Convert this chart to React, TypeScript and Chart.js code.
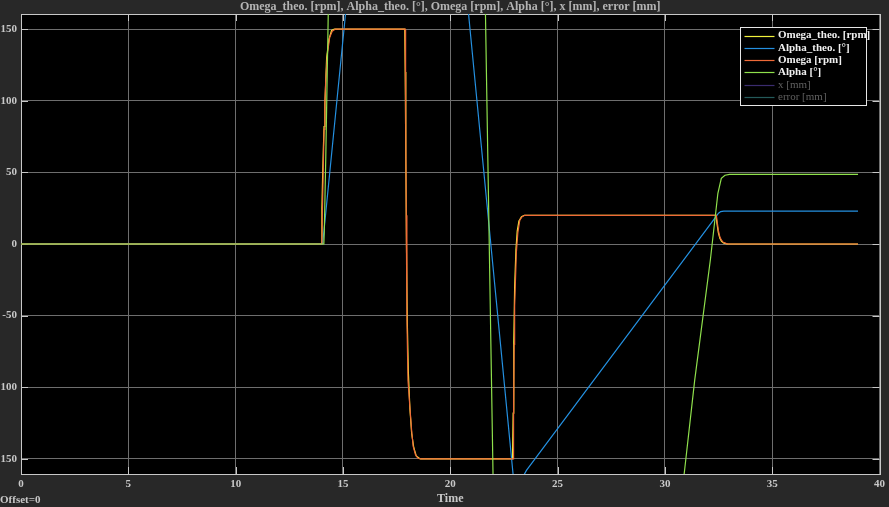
import React, { useEffect, useRef } from 'react';
import { Chart, registerables } from 'chart.js';

Chart.register(...registerables);

// ---- axis ticks ----
const xTickValues = [0, 5, 10, 15, 20, 25, 30, 35, 40];
const yTickValues = [-150, -100, -50, 0, 50, 100, 150];

// ---- series names ----
const seriesNames = ['Omega_theo. [rpm]', 'Alpha_theo. [°]', 'Omega [rpm]', 'Alpha [°]', 'x [mm]', 'error [mm]'];
const seriesColors = ['#f2f23c', '#2490e0', '#ef6a38', '#8fe04c', '#3b2c6e', '#245a5a'];

// ---- Omega_theo [rpm] ----
const omegaTheoT = [0, 13.99, 14.02, 14.05, 14.08, 14.12, 14.16, 14.24, 14.35, 14.47, 14.6, 17.88, 17.9, 17.93, 17.96, 18.0, 18.05, 18.12, 18.2, 18.3, 18.42, 18.6, 22.9, 22.93, 22.96, 23.0, 23.06, 23.12, 23.2, 23.32, 23.45, 32.38, 32.43, 32.49, 32.56, 32.64, 32.75, 32.9, 39];
const omegaTheoV = [0, 0, 25, 45, 63, 82, 98, 130, 143, 149, 150, 150, 120, 60, 0, -55, -90, -115, -132, -142, -148, -150, -150, -118, -68, -30, -4, 9, 16, 19, 20, 20, 14, 8, 4, 1.8, 0.6, 0, 0];

// ---- Alpha_theo [°] ----
const alphaTheoT = [0, 14.05, 14.12, 15.09, 17.9, 18.0, 18.1, 18.25, 20.91, 22.93, 23.0, 23.08, 23.55, 32.4, 32.5, 32.6, 32.75, 33.0, 39];
const alphaTheoV = [0, 0, 9.8, 156, 578, 585, 585, 570, 151.6, -161, -170, -171, -158, 19.5, 21.5, 22.6, 23, 23, 23];

// ---- Omega [rpm] ----
const omegaT = [0, 14.02, 14.04, 14.08, 14.12, 14.16, 14.2, 14.28, 14.38, 14.5, 14.65, 17.9, 17.92, 17.95, 17.98, 18.03, 18.11, 18.2, 18.27, 18.38, 18.5, 18.65, 22.93, 22.95, 22.98, 23.0, 23.08, 23.15, 23.24, 23.35, 23.47, 32.4, 32.45, 32.5, 32.56, 32.63, 32.72, 32.85, 32.95, 39];
const omegaV = [0, 0, 20, 50, 80, 100, 115, 133, 144, 148.5, 150, 150, 100, 20, -50, -95, -112, -130, -141, -147, -149.5, -150, -150, -120, -70, -43, -6, 8, 16.7, 19, 20, 20, 14, 9, 5, 2.8, 1.2, 0.4, 0, 0];

// ---- Alpha [°] ----
const alphaT = [0, 14.11, 14.13, 14.2, 14.31, 14.5, 18.0, 18.2, 21.64, 21.99, 23.05, 23.2, 30.92, 31.39, 32.12, 32.47, 32.63, 32.8, 33.01, 39];
const alphaV = [0, 0, 8, 60, 156, 330, 3400, 3400, 161, -158, -1110, -1100, -157.7, -95, -11, 35.4, 45.8, 48, 48.6, 48.6];

// ---- x [mm], error [mm] (no visible samples) ----
const xMmT: number[] = [];
const xMmV: number[] = [];
const errorT: number[] = [];
const errorV: number[] = [];

const titleText = 'Omega_theo. [rpm], Alpha_theo. [°], Omega [rpm], Alpha [°], x [mm], error [mm]';
const SERIF = '"Liberation Serif", "Times New Roman", serif';

function pts(t: number[], v: number[]) {
  return t.map((x, i) => ({ x, y: v[i] }));
}

export default function App() {
  const ref = useRef<HTMLCanvasElement>(null);

  useEffect(() => {
    document.body.style.margin = '0';
    const canvas = ref.current!;

    const bgPlugin = {
      id: 'bg',
      beforeDraw(chart: any) {
        const { ctx, chartArea: a } = chart;
        ctx.save();
        ctx.fillStyle = '#282828';
        ctx.fillRect(0, 0, chart.width, chart.height);
        ctx.fillStyle = '#000000';
        ctx.fillRect(a.left, a.top, a.right - a.left, a.bottom - a.top);
        ctx.restore();
      },
    };

    const framePlugin = {
      id: 'frame',
      beforeDatasetsDraw(chart: any) {
        const { ctx, chartArea: a, scales } = chart;
        ctx.save();
        ctx.strokeStyle = '#c8c8c8';
        ctx.lineWidth = 1;
        const L = 7;
        ctx.beginPath();
        for (const v of xTickValues) {
          const px = Math.round(scales.x.getPixelForValue(v)) + 0.5;
          ctx.moveTo(px, a.bottom);
          ctx.lineTo(px, a.bottom - L);
          ctx.moveTo(px, a.top);
          ctx.lineTo(px, a.top + L);
        }
        for (const v of yTickValues) {
          const py = Math.round(scales.y.getPixelForValue(v)) + 0.5;
          ctx.moveTo(a.left, py);
          ctx.lineTo(a.left + L, py);
          ctx.moveTo(a.right, py);
          ctx.lineTo(a.right - L, py);
        }
        ctx.stroke();
        ctx.strokeRect(Math.round(a.left) + 0.5, Math.round(a.top) + 0.5, Math.round(a.right - a.left), Math.round(a.bottom - a.top));
        ctx.restore();
      },
      afterDraw(chart: any) {
        const { ctx, chartArea: a } = chart;
        ctx.save();
        // legend box
        const w = 126, h = 78;
        const bx = Math.round(a.right - 14 - w) + 0.5;
        const by = Math.round(a.top + 13) + 0.5;
        ctx.fillStyle = '#000000';
        ctx.fillRect(bx, by, w, h);
        ctx.strokeStyle = '#e6e6e6';
        ctx.lineWidth = 1;
        ctx.strokeRect(bx, by, w, h);
        ctx.textBaseline = 'middle';
        ctx.textAlign = 'left';
        seriesNames.forEach((name, i) => {
          const y = by + 8 + i * 12.3;
          ctx.strokeStyle = seriesColors[i];
          ctx.lineWidth = 1.2;
          ctx.beginPath();
          ctx.moveTo(bx + 4, Math.round(y) + 0.5);
          ctx.lineTo(bx + 34, Math.round(y) + 0.5);
          ctx.stroke();
          ctx.font = i < 4 ? `bold 11px ${SERIF}` : `11px ${SERIF}`;
          ctx.fillStyle = i < 4 ? '#f0f0f0' : '#606060';
          ctx.fillText(name, bx + 37.5, y);
        });
        // offset note
        ctx.fillStyle = '#c8c8c8';
        ctx.font = `bold 11px ${SERIF}`;
        ctx.textBaseline = 'middle';
        ctx.fillText('Offset=0', 0, 500);
        ctx.restore();
      },
    };

    const mk = (i: number, t: number[], v: number[], order: number) => ({
      label: seriesNames[i],
      data: pts(t, v),
      borderColor: seriesColors[i],
      backgroundColor: seriesColors[i],
      borderWidth: 1.2,
      pointRadius: 0,
      tension: 0,
      fill: false,
      order,
    });

    const tickFont = { family: SERIF, size: 11, weight: 'bold' as const };

    const chart = new Chart(canvas, {
      type: 'line',
      data: {
        datasets: [
          mk(0, omegaTheoT, omegaTheoV, 6),
          mk(1, alphaTheoT, alphaTheoV, 5),
          mk(2, omegaT, omegaV, 4),
          mk(3, alphaT, alphaV, 3),
          mk(4, xMmT, xMmV, 2),
          mk(5, errorT, errorV, 1),
        ],
      },
      options: {
        responsive: false,
        animation: false,
        devicePixelRatio: 1,
        layout: { padding: { left: 0, right: 8, top: 0, bottom: 0 } },
        plugins: {
          legend: { display: false },
          tooltip: { enabled: false },
          title: {
            display: true,
            text: titleText,
            color: '#b4b4b4',
            fullSize: false,
            font: { family: SERIF, size: 12, weight: 'bold', lineHeight: 14 / 12 },
            padding: { top: 0, bottom: 0 },
          },
        },
        scales: {
          x: {
            type: 'linear',
            min: 0,
            max: 40,
            afterBuildTicks: (s: any) => {
              s.ticks = xTickValues.map((v) => ({ value: v }));
            },
            afterFit: (s: any) => {
              s.height = 33;
            },
            ticks: { color: '#c8c8c8', font: tickFont, padding: 4, maxRotation: 0, autoSkip: false },
            grid: { color: '#6e6e6e', lineWidth: 1, drawTicks: false },
            border: { display: false },
            title: {
              display: true,
              text: 'Time',
              color: '#c8c8c8',
              font: { family: SERIF, size: 12, weight: 'bold' },
              padding: { top: 0, bottom: 1 },
            },
          },
          y: {
            type: 'linear',
            min: -160.5,
            max: 160.5,
            afterBuildTicks: (s: any) => {
              s.ticks = yTickValues.map((v) => ({ value: v }));
            },
            afterFit: (s: any) => {
              s.width = 21;
            },
            ticks: { color: '#c8c8c8', font: tickFont, padding: 4, autoSkip: false },
            grid: { color: '#6e6e6e', lineWidth: 1, drawTicks: false },
            border: { display: false },
          },
        },
      },
      plugins: [bgPlugin, framePlugin],
    } as any);

    return () => chart.destroy();
  }, []);

  return (
    <div style={{ position: 'absolute', left: 0, top: 0, width: 889, height: 507, background: '#282828' }}>
      <canvas ref={ref} width={889} height={507} style={{ display: 'block', width: 889, height: 507 }} />
    </div>
  );
}
